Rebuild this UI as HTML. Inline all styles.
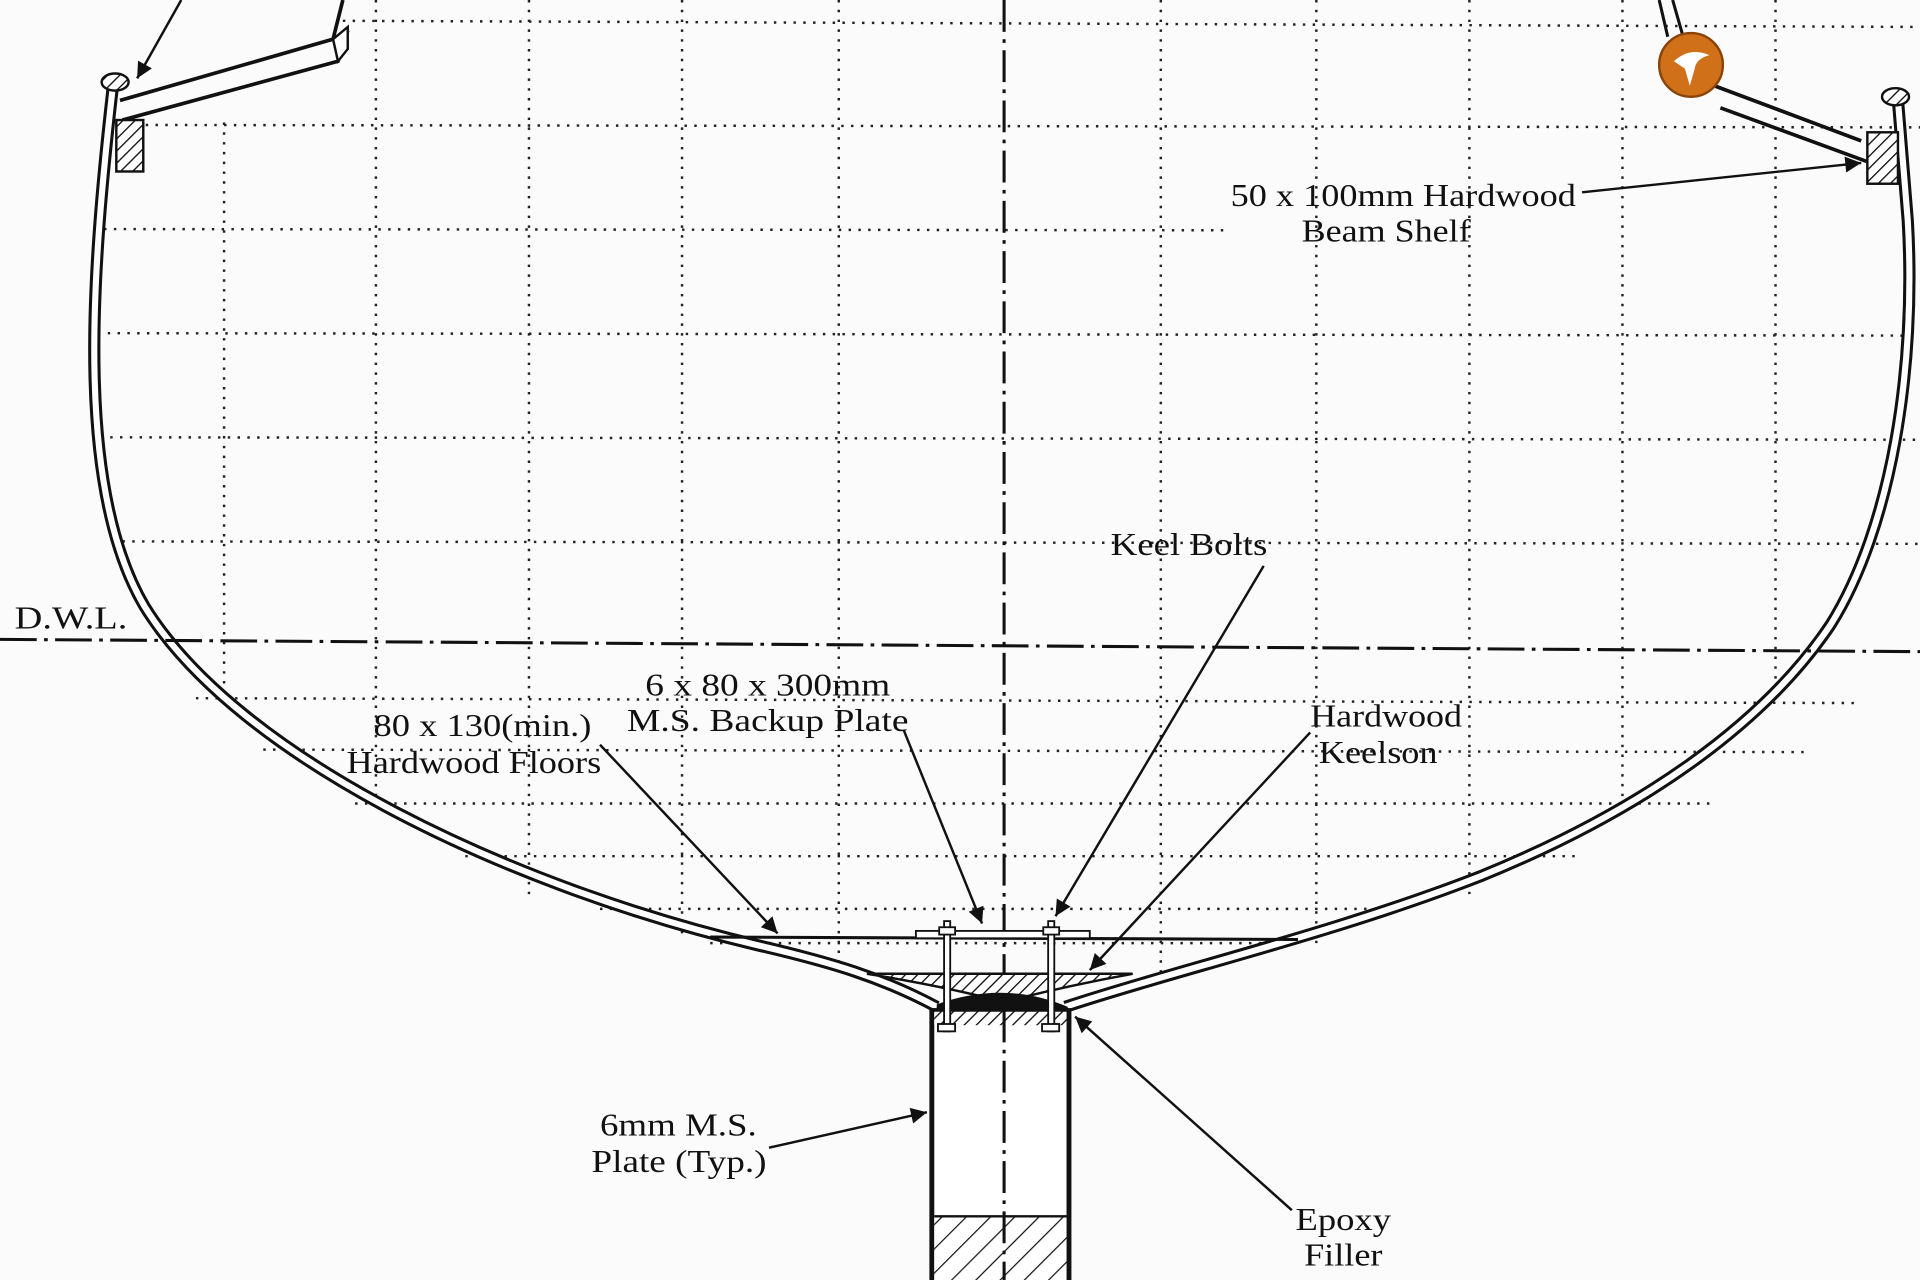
<!DOCTYPE html>
<html><head><meta charset="utf-8"><style>
html,body{margin:0;padding:0;background:#fbfbfb;}
svg{display:block}
text{font-family:"Liberation Serif",serif;font-size:26px;fill:#111;}
</style></head><body>
<svg width="1920" height="1280" viewBox="0 0 1568 1045" preserveAspectRatio="none" xmlns="http://www.w3.org/2000/svg">
<defs>
<pattern id="h" width="7" height="7" patternUnits="userSpaceOnUse" patternTransform="rotate(45)">
<rect width="7" height="7" fill="#fff"/><line x1="0" y1="0" x2="0" y2="7" stroke="#111" stroke-width="2.2"/></pattern>
<pattern id="h2" width="14" height="14" patternUnits="userSpaceOnUse" patternTransform="rotate(45)">
<rect width="14" height="14" fill="#fff"/><line x1="0" y1="0" x2="0" y2="14" stroke="#111" stroke-width="2"/></pattern>
<marker id="A" viewBox="0 0 10 10" refX="10" refY="5" markerWidth="26" markerHeight="13" orient="auto" markerUnits="userSpaceOnUse"><path d="M0,0 L10,5 L0,10 z" fill="#111"/></marker>
</defs>
<rect width="1568" height="1045" fill="#fbfbfb"/>
<g stroke="#222" stroke-width="2" stroke-dasharray="2 6" fill="none">
<line x1="280" y1="17" x2="1568" y2="22"/>
<line x1="95" y1="102" x2="1568" y2="104"/>
<line x1="85" y1="187" x2="1000" y2="188"/>
<line x1="80" y1="272" x2="1568" y2="274"/>
<line x1="82" y1="357" x2="1568" y2="359"/>
<line x1="100" y1="442" x2="1568" y2="444"/>
<line x1="160" y1="570" x2="1520" y2="574"/>
<line x1="215" y1="612" x2="1475" y2="614"/>
<line x1="290" y1="656" x2="1400" y2="656"/>
<line x1="380" y1="699" x2="1290" y2="699"/>
<line x1="490" y1="742" x2="1130" y2="742"/>
<line x1="580" y1="770" x2="1050" y2="770"/>
<line x1="768" y1="862" x2="866" y2="862"/>
<line x1="768" y1="910" x2="866" y2="910"/>
<line x1="183" y1="100" x2="183" y2="560"/>
<line x1="307" y1="0" x2="307" y2="660"/>
<line x1="432" y1="0" x2="432" y2="730"/>
<line x1="557" y1="0" x2="557" y2="765"/>
<line x1="685" y1="0" x2="685" y2="790"/>
<line x1="948" y1="0" x2="948" y2="795"/>
<line x1="1075" y1="0" x2="1075" y2="770"/>
<line x1="1200" y1="0" x2="1200" y2="730"/>
<line x1="1325" y1="0" x2="1325" y2="660"/>
<line x1="1450" y1="0" x2="1450" y2="570"/>
</g>
<g fill="none" stroke-linejoin="round">
<path d="M92,72 C74,230 62,400 118,495 C195,620 420,725 620,772 C680,786 720,798 765,822" stroke="#111" stroke-width="10"/>
<path d="M92,72 C74,230 62,400 118,495 C195,620 420,725 620,772 C680,786 720,798 765,822" stroke="#fff" stroke-width="5"/>
<path d="M870,822 C960,792 1090,762 1210,715 C1340,662 1440,592 1495,510 C1545,430 1565,300 1558,180 L1550,82" stroke="#111" stroke-width="10"/>
<path d="M870,822 C960,792 1090,762 1210,715 C1340,662 1440,592 1495,510 C1545,430 1565,300 1558,180 L1550,82" stroke="#fff" stroke-width="5"/>
</g>
<path d="M98,82 L272,32 L280,0 M100,98 L276,50 L284,25" fill="none" stroke="#111" stroke-width="3"/>
<path d="M272,32 L276,50 L284,40 L284,22 Z" fill="#fff" stroke="#111" stroke-width="2"/>
<rect x="95" y="98" width="22" height="42" fill="url(#h)" stroke="#111" stroke-width="2"/>
<ellipse cx="94" cy="67" rx="11" ry="7" fill="url(#h)" stroke="#111" stroke-width="2"/>
<line x1="148" y1="0" x2="112" y2="64" stroke="#111" stroke-width="2" marker-end="url(#A)"/>
<path d="M1355,0 L1362,30 M1366,0 L1374,28" stroke="#111" stroke-width="2.5" fill="none"/>
<path d="M1400,70 L1520,115 M1405,88 L1525,132" stroke="#111" stroke-width="3" fill="none"/>
<rect x="1525" y="108" width="25" height="42" fill="url(#h)" stroke="#111" stroke-width="2"/>
<ellipse cx="1548" cy="79" rx="11" ry="7" fill="url(#h)" stroke="#111" stroke-width="2"/>
<circle cx="1381" cy="53" r="26" fill="#d0711a" stroke="#8a4308" stroke-width="2"/>
<path d="M1367,50 Q1380,38 1396,45 Q1385,48 1384,56 L1380,70 L1376,56 Q1370,52 1367,50 Z" fill="#fff"/>
<line x1="820" y1="0" x2="820" y2="1045" stroke="#111" stroke-width="2.5" stroke-dasharray="26 6 3 6"/>
<line x1="0" y1="522" x2="1568" y2="532" stroke="#111" stroke-width="2.5" stroke-dasharray="30 6 3 6"/>
<text x="12" y="513" textLength="92" lengthAdjust="spacingAndGlyphs">D.W.L.</text>
<line x1="580" y1="765" x2="1060" y2="767" stroke="#111" stroke-width="2.5"/>
<rect x="748" y="760" width="142" height="6" fill="#fff" stroke="#111" stroke-width="1.5"/>
<path d="M708,795 L925,795 Q870,805 820,818 Q770,805 708,795 Z" fill="url(#h)" stroke="#111" stroke-width="2"/>
<path d="M765,820 Q820,800 872,822 L872,830 L765,830 Z" fill="#111"/>
<rect x="761" y="825" width="112" height="230" fill="#fff" stroke="#111" stroke-width="4"/>
<rect x="763" y="826" width="108" height="11" fill="url(#h)"/>
<rect x="763" y="993" width="108" height="52" fill="url(#h2)"/>
<line x1="763" y1="993" x2="871" y2="993" stroke="#111" stroke-width="2"/>
<line x1="820" y1="825" x2="820" y2="1045" stroke="#111" stroke-width="2.5" stroke-dasharray="26 6 3 6"/>
<g stroke="#111" stroke-width="1.5" fill="#fff">
<rect x="771" y="752" width="5" height="90"/><rect x="856" y="752" width="5" height="90"/>
<rect x="767" y="757" width="13" height="6"/><rect x="852" y="757" width="13" height="6"/>
<rect x="766" y="836" width="14" height="6"/><rect x="851" y="836" width="14" height="6"/>
</g>
<g lengthAdjust="spacingAndGlyphs">
<text x="1005" y="168" textLength="282" lengthAdjust="spacingAndGlyphs">50 x 100mm Hardwood</text>
<text x="1063" y="197" textLength="138" lengthAdjust="spacingAndGlyphs">Beam Shelf</text>
<text x="907" y="453" textLength="128" lengthAdjust="spacingAndGlyphs">Keel Bolts</text>
<text x="527" y="568" textLength="200" lengthAdjust="spacingAndGlyphs">6 x 80 x 300mm</text>
<text x="512" y="597" textLength="230" lengthAdjust="spacingAndGlyphs">M.S. Backup Plate</text>
<text x="305" y="601" textLength="178" lengthAdjust="spacingAndGlyphs">80 x 130(min.)</text>
<text x="283" y="631" textLength="208" lengthAdjust="spacingAndGlyphs">Hardwood Floors</text>
<text x="1070" y="593" textLength="124" lengthAdjust="spacingAndGlyphs">Hardwood</text>
<text x="1077" y="623" textLength="97" lengthAdjust="spacingAndGlyphs">Keelson</text>
<text x="490" y="927" textLength="128" lengthAdjust="spacingAndGlyphs">6mm M.S.</text>
<text x="483" y="957" textLength="143" lengthAdjust="spacingAndGlyphs">Plate (Typ.)</text>
<text x="1058" y="1004" textLength="78" lengthAdjust="spacingAndGlyphs">Epoxy</text>
<text x="1065" y="1033" textLength="64" lengthAdjust="spacingAndGlyphs">Filler</text>
</g>
<line x1="1292" y1="157" x2="1520" y2="133" stroke="#111" stroke-width="2" marker-end="url(#A)"/>
<line x1="1032" y1="462" x2="862" y2="748" stroke="#111" stroke-width="2" marker-end="url(#A)"/>
<line x1="738" y1="596" x2="802" y2="754" stroke="#111" stroke-width="2" marker-end="url(#A)"/>
<line x1="490" y1="608" x2="635" y2="762" stroke="#111" stroke-width="2" marker-end="url(#A)"/>
<line x1="1070" y1="598" x2="890" y2="792" stroke="#111" stroke-width="2" marker-end="url(#A)"/>
<line x1="628" y1="937" x2="757" y2="908" stroke="#111" stroke-width="2" marker-end="url(#A)"/>
<line x1="1055" y1="988" x2="878" y2="830" stroke="#111" stroke-width="2" marker-end="url(#A)"/>
</svg>
</body></html>
